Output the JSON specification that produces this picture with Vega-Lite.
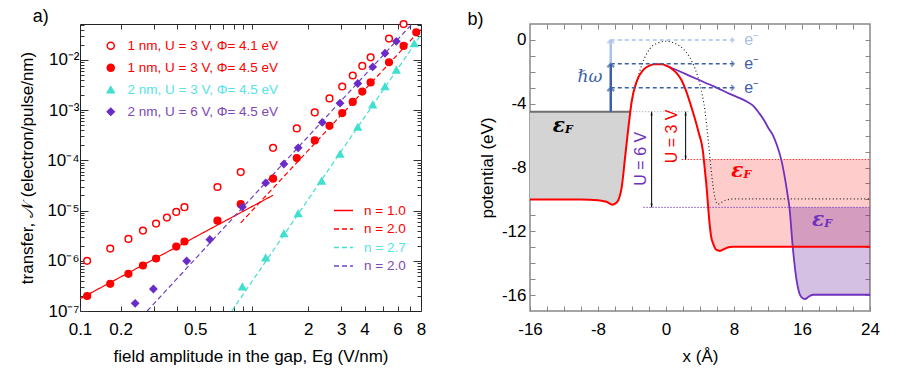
{
"$schema":"https://vega.github.io/schema/vega-lite/v6.json",
"padding":{"left":18,"top":7,"right":5,"bottom":5},
"bounds":"flush",
"spacing":109,
"resolve":{"scale":{"color":"independent","stroke":"independent","fill":"independent","shape":"independent","strokeDash":"independent"},"legend":{"color":"independent","stroke":"independent","fill":"independent","shape":"independent","strokeDash":"independent"}},
"config":{
  "font":"Liberation Sans",
  "axis":{"grid":false,"domain":false,"labelFontSize":17,"titleFontSize":17,"titleFontWeight":"normal","labelColor":"#000","titleColor":"#000","tickColor":"#333","labelFlush":false,"labelOverlap":false},
  "legend":{"labelFontWeight":"normal","labelFont":"Liberation Sans"},
  "title":{"fontSize":18,"fontWeight":"normal","anchor":"start","frame":"bounds","color":"#000"}
},
"datasets":{
  "pts":[
    {"series":"1 nm, U = 3 V, Φ= 4.1 eV","x":0.1325,"y":1.0e-6},{"series":"1 nm, U = 3 V, Φ= 4.1 eV","x":0.176,"y":1.75e-6},{"series":"1 nm, U = 3 V, Φ= 4.1 eV","x":0.22,"y":2.73e-6},{"series":"1 nm, U = 3 V, Φ= 4.1 eV","x":0.263,"y":4.0e-6},{"series":"1 nm, U = 3 V, Φ= 4.1 eV","x":0.309,"y":5.5e-6},{"series":"1 nm, U = 3 V, Φ= 4.1 eV","x":0.353,"y":7.25e-6},{"series":"1 nm, U = 3 V, Φ= 4.1 eV","x":0.396,"y":9.4e-6},{"series":"1 nm, U = 3 V, Φ= 4.1 eV","x":0.438,"y":1.17e-5},{"series":"1 nm, U = 3 V, Φ= 4.1 eV","x":0.657,"y":2.95e-5},{"series":"1 nm, U = 3 V, Φ= 4.1 eV","x":0.874,"y":5.86e-5},{"series":"1 nm, U = 3 V, Φ= 4.1 eV","x":1.30,"y":1.78e-4},{"series":"1 nm, U = 3 V, Φ= 4.1 eV","x":1.74,"y":4.33e-4},{"series":"1 nm, U = 3 V, Φ= 4.1 eV","x":2.17,"y":9.0e-4},{"series":"1 nm, U = 3 V, Φ= 4.1 eV","x":2.60,"y":1.71e-3},{"series":"1 nm, U = 3 V, Φ= 4.1 eV","x":3.04,"y":2.96e-3},{"series":"1 nm, U = 3 V, Φ= 4.1 eV","x":3.46,"y":4.9e-3},{"series":"1 nm, U = 3 V, Φ= 4.1 eV","x":3.89,"y":7.6e-3},{"series":"1 nm, U = 3 V, Φ= 4.1 eV","x":4.31,"y":1.13e-2},{"series":"1 nm, U = 3 V, Φ= 4.1 eV","x":5.40,"y":2.66e-2},{"series":"1 nm, U = 3 V, Φ= 4.1 eV","x":6.46,"y":5.19e-2},
    {"series":"1 nm, U = 3 V, Φ= 4.5 eV","x":0.1325,"y":1.99e-7},{"series":"1 nm, U = 3 V, Φ= 4.5 eV","x":0.176,"y":3.48e-7},{"series":"1 nm, U = 3 V, Φ= 4.5 eV","x":0.22,"y":5.5e-7},{"series":"1 nm, U = 3 V, Φ= 4.5 eV","x":0.263,"y":8.05e-7},{"series":"1 nm, U = 3 V, Φ= 4.5 eV","x":0.309,"y":1.11e-6},{"series":"1 nm, U = 3 V, Φ= 4.5 eV","x":0.396,"y":1.92e-6},{"series":"1 nm, U = 3 V, Φ= 4.5 eV","x":0.438,"y":2.42e-6},{"series":"1 nm, U = 3 V, Φ= 4.5 eV","x":0.657,"y":6.3e-6},{"series":"1 nm, U = 3 V, Φ= 4.5 eV","x":0.874,"y":1.34e-5},{"series":"1 nm, U = 3 V, Φ= 4.5 eV","x":1.30,"y":4.31e-5},{"series":"1 nm, U = 3 V, Φ= 4.5 eV","x":1.74,"y":1.11e-4},{"series":"1 nm, U = 3 V, Φ= 4.5 eV","x":2.17,"y":2.5e-4},{"series":"1 nm, U = 3 V, Φ= 4.5 eV","x":2.60,"y":4.88e-4},{"series":"1 nm, U = 3 V, Φ= 4.5 eV","x":3.04,"y":8.73e-4},{"series":"1 nm, U = 3 V, Φ= 4.5 eV","x":3.46,"y":1.46e-3},{"series":"1 nm, U = 3 V, Φ= 4.5 eV","x":3.89,"y":2.35e-3},{"series":"1 nm, U = 3 V, Φ= 4.5 eV","x":4.31,"y":3.56e-3},{"series":"1 nm, U = 3 V, Φ= 4.5 eV","x":5.40,"y":9.0e-3},{"series":"1 nm, U = 3 V, Φ= 4.5 eV","x":6.46,"y":1.90e-2},{"series":"1 nm, U = 3 V, Φ= 4.5 eV","x":7.55,"y":3.55e-2},
    {"series":"2 nm, U = 3 V, Φ= 4.5 eV","x":0.892,"y":3.04e-7},{"series":"2 nm, U = 3 V, Φ= 4.5 eV","x":1.187,"y":1.15e-6},{"series":"2 nm, U = 3 V, Φ= 4.5 eV","x":1.485,"y":3.48e-6},{"series":"2 nm, U = 3 V, Φ= 4.5 eV","x":1.77,"y":8.7e-6},{"series":"2 nm, U = 3 V, Φ= 4.5 eV","x":2.36,"y":3.88e-5},{"series":"2 nm, U = 3 V, Φ= 4.5 eV","x":2.96,"y":1.34e-4},{"series":"2 nm, U = 3 V, Φ= 4.5 eV","x":3.68,"y":4.6e-4},{"series":"2 nm, U = 3 V, Φ= 4.5 eV","x":4.42,"y":1.28e-3},{"series":"2 nm, U = 3 V, Φ= 4.5 eV","x":5.14,"y":2.96e-3},{"series":"2 nm, U = 3 V, Φ= 4.5 eV","x":5.91,"y":6.3e-3},{"series":"2 nm, U = 3 V, Φ= 4.5 eV","x":7.36,"y":2.12e-2},
    {"series":"2 nm, U = 6 V, Φ= 4.5 eV","x":0.239,"y":1.42e-7},{"series":"2 nm, U = 6 V, Φ= 4.5 eV","x":0.299,"y":2.74e-7},{"series":"2 nm, U = 6 V, Φ= 4.5 eV","x":0.450,"y":9.9e-7},{"series":"2 nm, U = 6 V, Φ= 4.5 eV","x":0.598,"y":2.65e-6},{"series":"2 nm, U = 6 V, Φ= 4.5 eV","x":0.892,"y":1.18e-5},{"series":"2 nm, U = 6 V, Φ= 4.5 eV","x":1.187,"y":3.55e-5},{"series":"2 nm, U = 6 V, Φ= 4.5 eV","x":1.485,"y":8.46e-5},{"series":"2 nm, U = 6 V, Φ= 4.5 eV","x":1.77,"y":1.78e-4},{"series":"2 nm, U = 6 V, Φ= 4.5 eV","x":2.38,"y":5.7e-4},{"series":"2 nm, U = 6 V, Φ= 4.5 eV","x":2.96,"y":1.38e-3},{"series":"2 nm, U = 6 V, Φ= 4.5 eV","x":3.68,"y":3.4e-3},{"series":"2 nm, U = 6 V, Φ= 4.5 eV","x":4.42,"y":7.26e-3},{"series":"2 nm, U = 6 V, Φ= 4.5 eV","x":5.14,"y":1.36e-2},{"series":"2 nm, U = 6 V, Φ= 4.5 eV","x":5.91,"y":2.35e-2}
  ],
  "fits":[
    {"fit":"f1","x":0.1214,"y":1.75e-7},{"fit":"f1","x":1.30,"y":2.02e-5},
    {"fit":"f2","x":0.874,"y":5.7e-6},{"fit":"f2","x":8,"y":4.07e-2},
    {"fit":"f3","x":0.783,"y":1e-7},{"fit":"f3","x":8,"y":3.18e-2},
    {"fit":"f4","x":0.277,"y":1e-7},{"fit":"f4","x":7.16,"y":0.052}
  ],
  "red":[
    {"x":-16,"y":-10},{"x":-10,"y":-10},{"x":-8,"y":-10.05},{"x":-7,"y":-10.15},{"x":-6.3,"y":-10.33},{"x":-5.8,"y":-10.2},{"x":-5.5,"y":-9.9},{"x":-5.22,"y":-9.27},{"x":-4.82,"y":-7.4},{"x":-4.43,"y":-5.52},{"x":-4.2,"y":-4.5},{"x":-4.04,"y":-3.86},{"x":-3.45,"y":-2.6},{"x":-2.67,"y":-1.88},{"x":-2,"y":-1.62},{"x":-1.29,"y":-1.52},{"x":-0.5,"y":-1.53},{"x":0.08,"y":-1.63},{"x":0.7,"y":-1.82},{"x":1.25,"y":-2.08},{"x":1.8,"y":-2.5},{"x":2.24,"y":-3.02},{"x":3.02,"y":-4.27},{"x":3.8,"y":-5.73},{"x":4.39,"y":-7.19},{"x":4.45,"y":-7.5},{"x":4.78,"y":-9.27},{"x":5.1,"y":-11.36},{"x":5.3,"y":-12.3},{"x":5.57,"y":-12.81},{"x":5.9,"y":-13.15},{"x":6.35,"y":-13.23},{"x":6.9,"y":-13.1},{"x":7.53,"y":-12.98},{"x":10,"y":-12.97},{"x":24,"y":-12.97}
  ],
  "purple":[
    {"x":0,"y":-1.6},{"x":1.65,"y":-1.98},{"x":3.5,"y":-2.42},{"x":5.56,"y":-2.9},{"x":7.5,"y":-3.38},{"x":9.49,"y":-3.86},{"x":10.3,"y":-4.15},{"x":10.9,"y":-4.55},{"x":11.5,"y":-5.0},{"x":12.04,"y":-5.52},{"x":12.6,"y":-6.0},{"x":13.02,"y":-6.56},{"x":13.6,"y":-7.6},{"x":14.0,"y":-8.7},{"x":14.3,"y":-9.7},{"x":14.52,"y":-10.5},{"x":14.9,"y":-12.92},{"x":15.37,"y":-15.1},{"x":15.7,"y":-15.9},{"x":15.96,"y":-16.15},{"x":16.35,"y":-16.25},{"x":16.8,"y":-16.1},{"x":17.33,"y":-15.98},{"x":24,"y":-15.98}
  ],
  "dotted":[
    {"x":-4.24,"y":-4.5},{"x":-3.9,"y":-3.6},{"x":-3.5,"y":-2.75},{"x":-2.8,"y":-1.5},{"x":-1.9,"y":-0.55},{"x":-1,"y":-0.2},{"x":0,"y":-0.08},{"x":1,"y":-0.2},{"x":2,"y":-0.55},{"x":2.8,"y":-1.1},{"x":3.4,"y":-1.77},{"x":4.0,"y":-2.81},{"x":4.59,"y":-4.48},{"x":4.98,"y":-6.35},{"x":5.37,"y":-8.44},{"x":5.76,"y":-9.9},{"x":6.1,"y":-10.3},{"x":6.5,"y":-10.2},{"x":7,"y":-10.05},{"x":8,"y":-9.97},{"x":24,"y":-9.97}
  ]
},
"hconcat":[
{
  "width":341,"height":287,
  "view":{"stroke":"#222","strokeWidth":1},
  "title":{"text":"a)","offset":-8,"dx":14},
  "encoding":{
    "x":{"field":"x","type":"quantitative","scale":{"type":"log","domain":[0.1214,8],"nice":false},"axis":null},
    "y":{"field":"y","type":"quantitative","scale":{"type":"log","domain":[1e-7,0.052],"nice":false},"axis":null}
  },
  "layer":[
    {"data":{"name":"fits"},"mark":{"type":"line","strokeWidth":1.2,"clip":true},
     "encoding":{
       "color":{"field":"fit","type":"nominal","scale":{"domain":["f1","f2","f3","f4"],"range":["#FF0000","#FF0000","#40E0D0","#7040C0"]},
         "legend":{"orient":"none","legendX":253,"legendY":176,"title":null,"padding":0,"labelFontSize":13.5,"symbolSize":361,"symbolStrokeWidth":1.5,"rowPadding":1.5,"labelOffset":10,"labelExpr":"datum.value=='f1' ? 'n = 1.0' : datum.value=='f3' ? 'n = 2.7' : 'n = 2.0'","labelColor":{"expr":"datum.value=='f3' ? '#55E3E9' : datum.value=='f4' ? '#7D48B4' : '#FF0000'"}}},
       "strokeDash":{"field":"fit","type":"nominal","scale":{"domain":["f1","f2","f3","f4"],"range":[[1,0],[5,3],[5,3],[5,3]]},
         "legend":{"orient":"none","legendX":253,"legendY":176,"title":null,"padding":0,"labelFontSize":13.5,"symbolSize":361,"symbolStrokeWidth":1.5,"rowPadding":1.5,"labelOffset":10,"labelExpr":"datum.value=='f1' ? 'n = 1.0' : datum.value=='f3' ? 'n = 2.7' : 'n = 2.0'","labelColor":{"expr":"datum.value=='f3' ? '#55E3E9' : datum.value=='f4' ? '#7D48B4' : '#FF0000'"}}}
     }},
    {"data":{"name":"pts"},"mark":{"type":"point","filled":true,"strokeWidth":1.5,"size":45,"opacity":1},
     "encoding":{
       "stroke":{"field":"series","type":"nominal","scale":{"domain":["1 nm, U = 3 V, Φ= 4.1 eV","1 nm, U = 3 V, Φ= 4.5 eV","2 nm, U = 3 V, Φ= 4.5 eV","2 nm, U = 6 V, Φ= 4.5 eV"],"range":["#FF0000","#FF0000","#40E0D0","#6A2CC8"]},
         "legend":{"orient":"none","legendX":24,"legendY":15,"title":null,"padding":0,"labelFontSize":13.5,"symbolSize":50,"symbolStrokeWidth":1.5,"rowPadding":7,"labelOffset":10,"labelColor":{"expr":"indexof(datum.value,'2 nm, U = 3')==0 ? '#55E3E9' : indexof(datum.value,'U = 6')>0 ? '#7D48B4' : '#FF0000'"}}},
       "fill":{"field":"series","type":"nominal","scale":{"domain":["1 nm, U = 3 V, Φ= 4.1 eV","1 nm, U = 3 V, Φ= 4.5 eV","2 nm, U = 3 V, Φ= 4.5 eV","2 nm, U = 6 V, Φ= 4.5 eV"],"range":["#FFFFFF","#FF0000","#40E0D0","#6A2CC8"]},
         "legend":{"orient":"none","legendX":24,"legendY":15,"title":null,"padding":0,"labelFontSize":13.5,"symbolSize":50,"symbolStrokeWidth":1.5,"rowPadding":7,"labelOffset":10,"labelColor":{"expr":"indexof(datum.value,'2 nm, U = 3')==0 ? '#55E3E9' : indexof(datum.value,'U = 6')>0 ? '#7D48B4' : '#FF0000'"}}},
       "shape":{"field":"series","type":"nominal","scale":{"domain":["1 nm, U = 3 V, Φ= 4.1 eV","1 nm, U = 3 V, Φ= 4.5 eV","2 nm, U = 3 V, Φ= 4.5 eV","2 nm, U = 6 V, Φ= 4.5 eV"],"range":["circle","circle","triangle-up","diamond"]},
         "legend":{"orient":"none","legendX":24,"legendY":15,"title":null,"padding":0,"labelFontSize":13.5,"symbolSize":50,"symbolStrokeWidth":1.5,"rowPadding":7,"labelOffset":10,"labelColor":{"expr":"indexof(datum.value,'2 nm, U = 3')==0 ? '#55E3E9' : indexof(datum.value,'U = 6')>0 ? '#7D48B4' : '#FF0000'"}}}
     }},
    {"data":{"name":"pts"},"mark":{"type":"point","opacity":0},
     "encoding":{
       "x":{"field":"x","type":"quantitative","scale":{"type":"log","domain":[0.1214,8],"nice":false},
         "axis":{"orient":"bottom","values":[0.1214,0.2,0.3,0.4,0.5,0.6,0.7,0.8,0.9,1,2,3,4,5,6,7,8],"labelExpr":"datum.value < 0.15 ? '0.1' : (datum.value==0.2||datum.value==0.5||datum.value==1||datum.value==2||datum.value==3||datum.value==4||datum.value==6||datum.value==8) ? ''+datum.value : ''","tickSize":-5,"labelPadding":15,"title":"field amplitude in the gap, Eg (V/nm)","titlePadding":11}},
       "y":{"field":"y","type":"quantitative","scale":{"type":"log","domain":[1e-7,0.052],"nice":false},
         "axis":{"orient":"left","values":[1e-7,1e-6,1e-5,1e-4,1e-3,1e-2],"labelExpr":"['10⁻⁷','10⁻⁶','10⁻⁵','10⁻⁴','10⁻³','10⁻²'][round(log(datum.value)/LN10)+7]","tickSize":-8,"labelPadding":9,"title":"transfer, 𝒩 (electron/pulse/nm)","titlePadding":10}}
     }},
    {"data":{"name":"pts"},"mark":{"type":"point","opacity":0},
     "encoding":{
       "x":{"field":"x","type":"quantitative","scale":{"type":"log","domain":[0.1214,8],"nice":false},
         "axis":{"orient":"top","values":[0.2,0.3,0.4,0.5,0.6,0.7,0.8,0.9,1,2,3,4,5,6,7],"labels":false,"tickSize":-5,"title":null}},
       "y":{"field":"y","type":"quantitative","scale":{"type":"log","domain":[1e-7,0.052],"nice":false},
         "axis":{"orient":"right","values":[1e-6,1e-5,1e-4,1e-3,1e-2],"labels":false,"tickSize":-8,"title":null}}
     }},
    {"data":{"name":"pts"},"mark":{"type":"point","opacity":0},
     "encoding":{
       "y":{"field":"y","type":"quantitative","scale":{"type":"log","domain":[1e-7,0.052],"nice":false},
         "axis":{"orient":"left","values":[2e-7,3e-7,4e-7,5e-7,6e-7,7e-7,8e-7,9e-7,2e-6,3e-6,4e-6,5e-6,6e-6,7e-6,8e-6,9e-6,2e-5,3e-5,4e-5,5e-5,6e-5,7e-5,8e-5,9e-5,2e-4,3e-4,4e-4,5e-4,6e-4,7e-4,8e-4,9e-4,2e-3,3e-3,4e-3,5e-3,6e-3,7e-3,8e-3,9e-3,2e-2,3e-2,4e-2,5e-2],"labels":false,"tickSize":-4,"title":null}}
     }},
    {"data":{"name":"pts"},"mark":{"type":"point","opacity":0},
     "encoding":{
       "y":{"field":"y","type":"quantitative","scale":{"type":"log","domain":[1e-7,0.052],"nice":false},
         "axis":{"orient":"right","values":[2e-7,3e-7,4e-7,5e-7,6e-7,7e-7,8e-7,9e-7,2e-6,3e-6,4e-6,5e-6,6e-6,7e-6,8e-6,9e-6,2e-5,3e-5,4e-5,5e-5,6e-5,7e-5,8e-5,9e-5,2e-4,3e-4,4e-4,5e-4,6e-4,7e-4,8e-4,9e-4,2e-3,3e-3,4e-3,5e-3,6e-3,7e-3,8e-3,9e-3,2e-2,3e-2,4e-2,5e-2],"labels":false,"tickSize":-4,"title":null}}
     }}
  ],
  "resolve":{"axis":{"x":"independent","y":"independent"}}
},
{
  "width":340,"height":287,
  "view":{"stroke":"#888","strokeWidth":1.5},
  "title":{"text":"b)","offset":-8,"dx":-11},
  "encoding":{
    "x":{"field":"x","type":"quantitative","scale":{"domain":[-16,24],"nice":false},"axis":null},
    "y":{"field":"y","type":"quantitative","scale":{"domain":[-17,1],"nice":false},"axis":null}
  },
  "layer":[
    {"data":{"name":"red"},"transform":[{"filter":"datum.x <= -4.2"}],"mark":{"type":"area","color":"#D4D4D4","opacity":1,"interpolate":"monotone"},"encoding":{"y2":{"datum":-4.5}}},
    {"data":{"name":"red"},"transform":[{"filter":"datum.x >= 4.45"}],"mark":{"type":"area","color":"#FF0000","opacity":0.2,"interpolate":"monotone"},"encoding":{"y2":{"datum":-7.5}}},
    {"data":{"name":"purple"},"transform":[{"filter":"datum.x >= 14.52"}],"mark":{"type":"area","color":"#7030A0","opacity":0.3,"interpolate":"monotone"},"encoding":{"y2":{"datum":-10.5}}},
    {"data":{"values":[{"x":-16,"x2":-4.2,"y":-4.5}]},"mark":{"type":"rule","color":"#6F6F6F","strokeWidth":2},"encoding":{"x2":{"field":"x2"}}},
    {"data":{"values":[{"x":-4.2,"x2":2.8,"y":-4.5}]},"mark":{"type":"rule","color":"#999999","strokeWidth":1,"strokeDash":[1,2]},"encoding":{"x2":{"field":"x2"}}},
    {"data":{"values":[{"x":1.84,"x2":24,"y":-7.5}]},"mark":{"type":"rule","color":"#FF3030","strokeWidth":1,"strokeDash":[1.5,1.5]},"encoding":{"x2":{"field":"x2"}}},
    {"data":{"values":[{"x":-2.67,"x2":24,"y":-10.5}]},"mark":{"type":"rule","color":"#8050C0","strokeWidth":1,"strokeDash":[1.5,1.5]},"encoding":{"x2":{"field":"x2"}}},
    {"data":{"name":"dotted"},"mark":{"type":"line","color":"#222","strokeWidth":1.2,"strokeDash":[1,2.5],"interpolate":"monotone"}},
    {"data":{"name":"purple"},"mark":{"type":"line","color":"#7030C0","strokeWidth":1.8,"interpolate":"monotone"}},
    {"data":{"name":"red"},"mark":{"type":"line","color":"#FF0000","strokeWidth":2,"interpolate":"monotone"}},
    {"data":{"values":[{"x":-6.5,"x2":7.9,"y":0,"kind":"light"},{"x":-6.5,"x2":7.9,"y":-1.5,"kind":"dark"},{"x":-6.5,"x2":7.9,"y":-3,"kind":"dark"}]},
     "mark":{"type":"rule","strokeWidth":1.5,"strokeDash":[4,3]},
     "encoding":{"x2":{"field":"x2"},"color":{"field":"kind","type":"nominal","scale":{"domain":["dark","light","metal","u3","u6"],"range":["#3C5FA5","#A8C2EA","#000000","#FF0000","#7030C0"]},"legend":null}}},
    {"data":{"values":[{"x":8.0,"y":0,"kind":"light"},{"x":8.0,"y":-1.5,"kind":"dark"},{"x":8.0,"y":-3,"kind":"dark"}]},
     "mark":{"type":"point","shape":"M-1,-1L0,0L-1,1","filled":false,"strokeWidth":1.5,"size":30},
     "encoding":{"stroke":{"field":"kind","type":"nominal","scale":{"domain":["dark","light"],"range":["#3C5FA5","#A8C2EA"]},"legend":null}}},
    {"data":{"values":[{"x":-6.5,"y":-4.5,"y2":-1.5,"kind":"dark"},{"x":-6.5,"y":-1.5,"y2":0,"kind":"light"}]},
     "mark":{"type":"rule","strokeWidth":2.5},
     "encoding":{"y2":{"field":"y2"},"color":{"field":"kind","type":"nominal","scale":{"domain":["dark","light","metal","u3","u6"],"range":["#3C5FA5","#A8C2EA","#000000","#FF0000","#7030C0"]},"legend":null}}},
    {"data":{"values":[{"x":-6.5,"y":-3,"kind":"dark"},{"x":-6.5,"y":-1.5,"kind":"dark"},{"x":-6.5,"y":0,"kind":"light"}]},
     "mark":{"type":"point","shape":"M-1,1L0,0L1,1","filled":false,"strokeWidth":2.2,"size":45},
     "encoding":{"stroke":{"field":"kind","type":"nominal","scale":{"domain":["dark","light"],"range":["#3C5FA5","#A8C2EA"]},"legend":null}}},
    {"data":{"values":[{"x":-1.69,"y":-4.5,"y2":-10.5},{"x":2.31,"y":-4.5,"y2":-7.5}]},
     "mark":{"type":"rule","color":"#000","strokeWidth":1},"encoding":{"y2":{"field":"y2"}}},
    {"data":{"values":[{"x":-1.69,"y":-4.5},{"x":2.31,"y":-4.5}]},
     "mark":{"type":"point","shape":"M0,0L-0.45,1.4L0.45,1.4Z","filled":true,"color":"#000","size":30}},
    {"data":{"values":[{"x":-1.69,"y":-10.5},{"x":2.31,"y":-7.5}]},
     "mark":{"type":"point","shape":"M0,0L-0.45,-1.4L0.45,-1.4Z","filled":true,"color":"#000","size":30}},
    {"data":{"values":[{"x":9.2,"y":0,"t":"e⁻","kind":"light"},{"x":9.2,"y":-1.5,"t":"e⁻","kind":"dark"},{"x":9.2,"y":-3,"t":"e⁻","kind":"dark"}]},
     "mark":{"type":"text","align":"left","baseline":"middle","fontSize":16},
     "encoding":{"text":{"field":"t"},"color":{"field":"kind","type":"nominal","scale":{"domain":["dark","light","metal","u3","u6"],"range":["#3C5FA5","#A8C2EA","#000000","#FF0000","#7030C0"]},"legend":null}}},
    {"data":{"values":[{"x":-8.94,"y":-2.3,"t":"ℏω"}]},
     "mark":{"type":"text","align":"center","baseline":"middle","fontSize":17,"font":"DejaVu Serif","fontStyle":"italic","color":"#3C5FA5"},
     "encoding":{"text":{"field":"t"}}},
    {"data":{"values":[{"x":-12.6,"y":-5.42,"kind":"metal"},{"x":8.4,"y":-8.23,"kind":"u3"},{"x":17.9,"y":-11.3,"kind":"u6"}]},
     "mark":{"type":"text","align":"center","baseline":"middle","fontSize":20,"font":"DejaVu Serif","fontStyle":"italic","fontWeight":"bold"},
     "encoding":{"text":{"value":"ε"},"color":{"field":"kind","type":"nominal","scale":{"domain":["dark","light","metal","u3","u6"],"range":["#3C5FA5","#A8C2EA","#000000","#FF0000","#7030C0"]},"legend":null}}},
    {"data":{"values":[{"x":-12.6,"y":-5.42,"kind":"metal"},{"x":8.4,"y":-8.23,"kind":"u3"},{"x":17.9,"y":-11.3,"kind":"u6"}]},
     "mark":{"type":"text","align":"left","baseline":"middle","fontSize":11,"font":"DejaVu Serif","fontStyle":"italic","fontWeight":"bold","dx":6,"dy":4},
     "encoding":{"text":{"value":"F"},"color":{"field":"kind","type":"nominal","scale":{"domain":["dark","light","metal","u3","u6"],"range":["#3C5FA5","#A8C2EA","#000000","#FF0000","#7030C0"]},"legend":null}}},
    {"data":{"values":[{"x":-2.96,"y":-7.45,"t":"U = 6 V","kind":"u6"},{"x":0.7,"y":-6.05,"t":"U = 3 V","kind":"u3"}]},
     "mark":{"type":"text","align":"center","baseline":"middle","fontSize":16,"angle":270},
     "encoding":{"text":{"field":"t"},"color":{"field":"kind","type":"nominal","scale":{"domain":["dark","light","metal","u3","u6"],"range":["#3C5FA5","#A8C2EA","#000000","#FF0000","#7030C0"]},"legend":null}}},
    {"data":{"values":[{"x":-16,"y":-17},{"x":24,"y":1}]},"mark":{"type":"point","opacity":0},
     "encoding":{
       "x":{"field":"x","type":"quantitative","scale":{"domain":[-16,24],"nice":false},
         "axis":{"orient":"bottom","values":[-16,-14,-12,-10,-8,-6,-4,-2,0,2,4,6,8,10,12,14,16,18,20,22,24],"labelExpr":"datum.value % 8 === 0 ? ''+datum.value : ''","tickSize":-5,"tickColor":"#888","labelPadding":15,"title":"x (Å)","titlePadding":11}},
       "y":{"field":"y","type":"quantitative","scale":{"domain":[-17,1],"nice":false},
         "axis":{"orient":"left","values":[-16,-15,-14,-13,-12,-11,-10,-9,-8,-7,-6,-5,-4,-3,-2,-1,0],"labelExpr":"datum.value % 4 === 0 ? ''+datum.value : ''","tickSize":-5,"tickColor":"#888","labelPadding":9,"title":"potential (eV)","titlePadding":5}}
     }},
    {"data":{"values":[{"x":-16,"y":-17},{"x":24,"y":1}]},"mark":{"type":"point","opacity":0},
     "encoding":{
       "x":{"field":"x","type":"quantitative","scale":{"domain":[-16,24],"nice":false},
         "axis":{"orient":"top","values":[-14,-12,-10,-8,-6,-4,-2,0,2,4,6,8,10,12,14,16,18,20,22],"labels":false,"tickSize":-5,"tickColor":"#888","title":null}},
       "y":{"field":"y","type":"quantitative","scale":{"domain":[-17,1],"nice":false},
         "axis":{"orient":"right","values":[-16,-15,-14,-13,-12,-11,-10,-9,-8,-7,-6,-5,-4,-3,-2,-1,0],"labels":false,"tickSize":-5,"tickColor":"#888","title":null}}
     }}
  ],
  "resolve":{"axis":{"x":"independent","y":"independent"}}
}
]
}
